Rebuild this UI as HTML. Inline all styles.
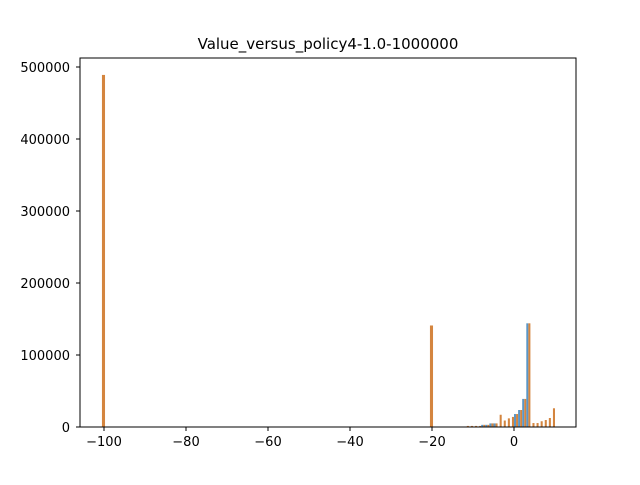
<!DOCTYPE html>
<html><head><meta charset="utf-8"><style>
body{margin:0;background:#fff;font-family:"Liberation Sans","DejaVu Sans",sans-serif}
svg text{font-family:"DejaVu Sans","Liberation Sans",sans-serif;font-size:13px;fill:#000}
</style></head><body>
<svg width="640" height="480">
<rect width="640" height="480" fill="#fff"/>
<text x="328" y="49" text-anchor="middle" style="font-size:15px">Value_versus_policy4-1.0-1000000</text>
<g id="bars"></g>
<rect x="80" y="58" width="496" height="369" fill="none" stroke="#000" stroke-width="1"/>
<g id="axes"></g>
</svg>
<script>
const bins = [-100.8,-20.8,-12,-11,-10,-9,-8,-7,-6,-5,-4,-3,-2,-1,0,1,2,3,4,5,6,7,8,9];
const blueValues = [0,0,0,0,0,0,3000,3000,5000,5000,0,0,0,0,18000,23600,39000,144000,0,0,0,0,0,0];
const orangeValues = [489000,141000,1500,1500,1500,1500,3000,3000,5000,5000,17000,9000,12000,14000,18000,23600,39000,144000,5500,5500,8000,9700,12500,26000];
const xTicks = [-100,-80,-60,-40,-20,0];
const yTicks = [0,100000,200000,300000,400000,500000];
const X = v => 514 + v*4.1;
const Y = v => 427 - v*0.00072;
const NS="http://www.w3.org/2000/svg";
const gb=document.getElementById('bars'), ga=document.getElementById('axes');
function rect(g,x,y,w,h,fill){const r=document.createElementNS(NS,'rect');r.setAttribute('x',x);r.setAttribute('y',y);r.setAttribute('width',w);r.setAttribute('height',h);r.setAttribute('fill',fill);g.appendChild(r);return r;}
bins.forEach((b,i)=>{
  const hw = i<2 ? 0.75 : 0.5;
  if(blueValues[i]>0){const r=rect(gb,X(b),Y(blueValues[i]),X(b+0.5)-X(b),427-Y(blueValues[i]),'#5b96c6');
    
    }
  if(orangeValues[i]>0){const s = i<2 ? b+0.3 : b+0.5; const r=rect(gb,X(s),Y(orangeValues[i]),X(s+hw)-X(s),427-Y(orangeValues[i]),'#d4853f');
    
    }
});
xTicks.forEach(t=>{
  const x=X(t);
  const l=rect(ga,x-0.5,427,1,4,'#000');
  
  
  const tx=document.createElementNS(NS,'text');tx.setAttribute('x',x);tx.setAttribute('y',446);tx.setAttribute('text-anchor','middle');tx.textContent=t<0?'\u2212'+(-t):t;
  
  
  ga.appendChild(tx);
});
yTicks.forEach(t=>{
  const y=Y(t);
  const l=rect(ga,76,y-0.5,4,1,'#000');
  
  
  const tx=document.createElementNS(NS,'text');tx.setAttribute('x',70);tx.setAttribute('y',y+5);tx.setAttribute('text-anchor','end');tx.textContent=t;
  
  
  ga.appendChild(tx);
});
</script>
</body></html>
